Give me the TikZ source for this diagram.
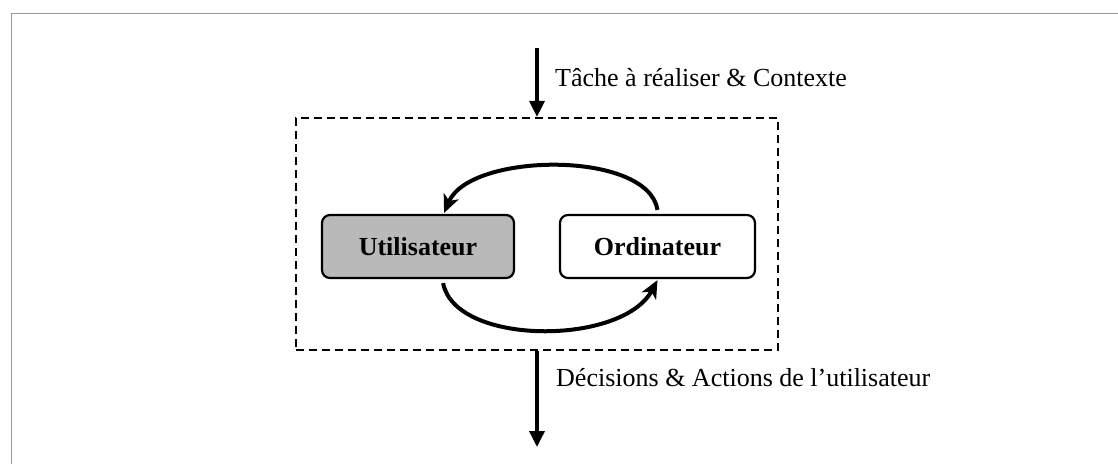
\documentclass[tikz,border=0pt]{standalone}
\usepackage{fontspec}
\setmainfont{Liberation Serif}
\usetikzlibrary{arrows.meta,calc}
\begin{document}
\begin{tikzpicture}[x=1pt,y=-1pt,
  agent/.style={draw,line width=2.2pt,rounded corners=8pt,minimum height=63pt,
    font=\fontsize{26}{30}\selectfont\bfseries,inner sep=0pt},
  flow/.style={line width=3.5pt,-{Triangle[length=16pt,width=15pt]}},
  loop/.style={line width=4pt,-{Stealth[length=18pt,width=16pt,inset=5pt]}},
  lbl/.style={font=\fontsize{26}{30}\selectfont,anchor=base west,inner sep=0pt}]
\useasboundingbox (0,0) rectangle (1118,464);
\draw[gray!80,line width=1pt] (11,464) -- (11,13) -- (1118,13);
\node[draw,dashed,dash pattern=on 8pt off 5pt,line width=2.2pt,minimum width=482pt,minimum height=232pt,inner sep=0pt] (sys) at (537,234) {};
\node[agent,fill=gray!55,minimum width=192pt] (u) at (418,246.5) {Utilisateur};
\node[agent,fill=white,minimum width=195pt] (o) at (657.5,246.5) {Ordinateur};
\coordinate (in) at (537,48);
\coordinate (out) at (537,447);
\draw[flow] (in) -- (sys.north);
\draw[flow] (sys.south) -- (out);
\node[lbl] (t1) at (555,86) {Tâche à réaliser \& Contexte};
\node[lbl] (t2) at (556,386) {Décisions \& Actions de l’utilisateur};
\draw[loop] ($(o.north)+(0,-4)$) .. controls (648,150) and (470,152) .. ($(u.north east)+(-71,-1)$);
\draw[loop] ($(u.south east)+(-72,4)$) .. controls (455,346) and (622,346) .. ($(o.south)+(0,1)$);
\end{tikzpicture}
\end{document}
